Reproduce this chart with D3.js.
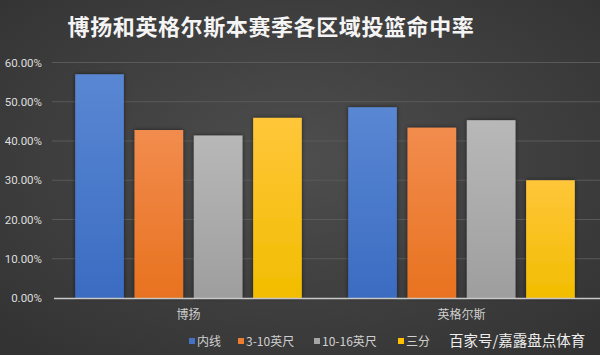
<!DOCTYPE html>
<html><head><meta charset="utf-8">
<script src="https://cdn.jsdelivr.net/npm/d3@7/dist/d3.min.js"></script>
<style>
html,body{margin:0;padding:0;background:#3c3c3c;}
svg{display:block;font-family:"Noto Sans CJK SC","Noto Sans",sans-serif;}
</style></head>
<body><svg id="c" width="600" height="355"></svg>
<script>
const title = "博扬和英格尔斯本赛季各区域投篮命中率";
const categories = ["博扬", "英格尔斯"];
const seriesNames = ["内线", "3-10英尺", "10-16英尺", "三分"];
const inside = [0.570, 0.486];
const ft3to10 = [0.428, 0.434];
const ft10to16 = [0.414, 0.453];
const threes = [0.459, 0.300];
const yTicks = [0, 0.1, 0.2, 0.3, 0.4, 0.5, 0.6];
const watermark = "百家号/嘉露盘点体育";

(function(){
const seriesValues = [inside, ft3to10, ft10to16, threes];
const colors = [
  ["#5a87d3", "#3b6cc2"],
  ["#f28c4e", "#e8721f"],
  ["#b8b8b8", "#9e9e9e"],
  ["#ffc63a", "#f2bd00"]
];
const legendColors = ["#4472c4", "#ed7d31", "#a5a5a5", "#ffc000"];

const svg = d3.select("#c");
const W = 600, H = 355;
const defs = svg.append("defs");
const bg = defs.append("radialGradient").attr("id","bg").attr("cx","50%").attr("cy","45%").attr("r","70%");
bg.append("stop").attr("offset","0%").attr("stop-color","#4e4e4e");
bg.append("stop").attr("offset","100%").attr("stop-color","#333333");
svg.append("rect").attr("width",W).attr("height",H).attr("fill","url(#bg)");

colors.forEach((c,i)=>{
  const g = defs.append("linearGradient").attr("id","g"+i).attr("x1",0).attr("y1",0).attr("x2",0).attr("y2",1);
  g.append("stop").attr("offset","0%").attr("stop-color",c[0]);
  g.append("stop").attr("offset","100%").attr("stop-color",c[1]);
});
const f = defs.append("filter").attr("id","sh").attr("x","-20%").attr("y","-10%").attr("width","140%").attr("height","120%");
f.append("feDropShadow").attr("dx",0).attr("dy",0).attr("stdDeviation",2).attr("flood-color","#000").attr("flood-opacity",0.55);

const pl = 52, pr = 598, pt = 62.5, pb = 298;
const y = d3.scaleLinear().domain([0, 0.6]).range([pb, pt]);
const x0 = d3.scaleBand().domain(categories).range([pl, pr]).paddingInner(0.17).paddingOuter(0.085);
const x1 = d3.scaleBand().domain(seriesNames).range([0, x0.bandwidth()]).paddingInner(0.18);

svg.append("g").selectAll("line").data(yTicks.slice(1)).join("line")
  .attr("x1", pl).attr("x2", 600).attr("y1", d=>y(d)).attr("y2", d=>y(d))
  .attr("stroke","#5a5a5a").attr("stroke-width",1);

const yAxis = d3.axisLeft(y).tickValues(yTicks).tickFormat(d=>(d*100).toFixed(2)+"%").tickSize(0).tickPadding(6);
const ga = svg.append("g").attr("transform",`translate(${pl-4},0)`).call(yAxis);
ga.select(".domain").remove();
ga.selectAll("text").attr("fill","#dedede").attr("font-size",11.5).attr("font-family","Roboto,'Noto Sans',sans-serif");

const groups = svg.append("g").selectAll("g").data(categories).join("g")
  .attr("transform", d=>`translate(${x0(d)},0)`);
groups.selectAll("rect").data((c,ci)=>seriesNames.map((s,si)=>({s, si, v: seriesValues[si][ci]}))).join("rect")
  .attr("x", d=>x1(d.s)).attr("width", x1.bandwidth())
  .attr("y", d=>y(d.v)).attr("height", d=>pb - y(d.v))
  .attr("fill", d=>"url(#g"+d.si+")").attr("filter","url(#sh)");

svg.append("line").attr("x1", pl+2).attr("x2", 600).attr("y1", pb+0.5).attr("y2", pb+0.5)
  .attr("stroke","#c8c8c8").attr("stroke-width",1.5);

svg.append("g").selectAll("text").data(categories).join("text")
  .attr("x", d=>x0(d)+x0.bandwidth()/2).attr("y", 319)
  .attr("text-anchor","middle").attr("fill","#d0d0d0").attr("font-size",12).text(d=>d);

svg.append("text").attr("x", 271).attr("y", 35).attr("text-anchor","middle")
  .attr("fill","#f4f4f4").attr("font-size",22).attr("font-weight",600).attr("letter-spacing",0.6).text(title);

const legX = [189, 238, 314, 398];
const lg = svg.append("g").selectAll("g").data(seriesNames).join("g")
  .attr("transform",(d,i)=>`translate(${legX[i]},342)`);
lg.append("rect").attr("x",0).attr("y",-4).attr("width",6).attr("height",6).attr("fill",(d,i)=>legendColors[i]);
lg.append("text").attr("x",8).attr("y",4).attr("fill","#d0d0d0").attr("font-size",12).text(d=>d);

svg.append("text").attr("x", 449).attr("y", 346).attr("fill","#eeeeee").attr("font-size",14.5).text(watermark);
})();
</script>
</body></html>
